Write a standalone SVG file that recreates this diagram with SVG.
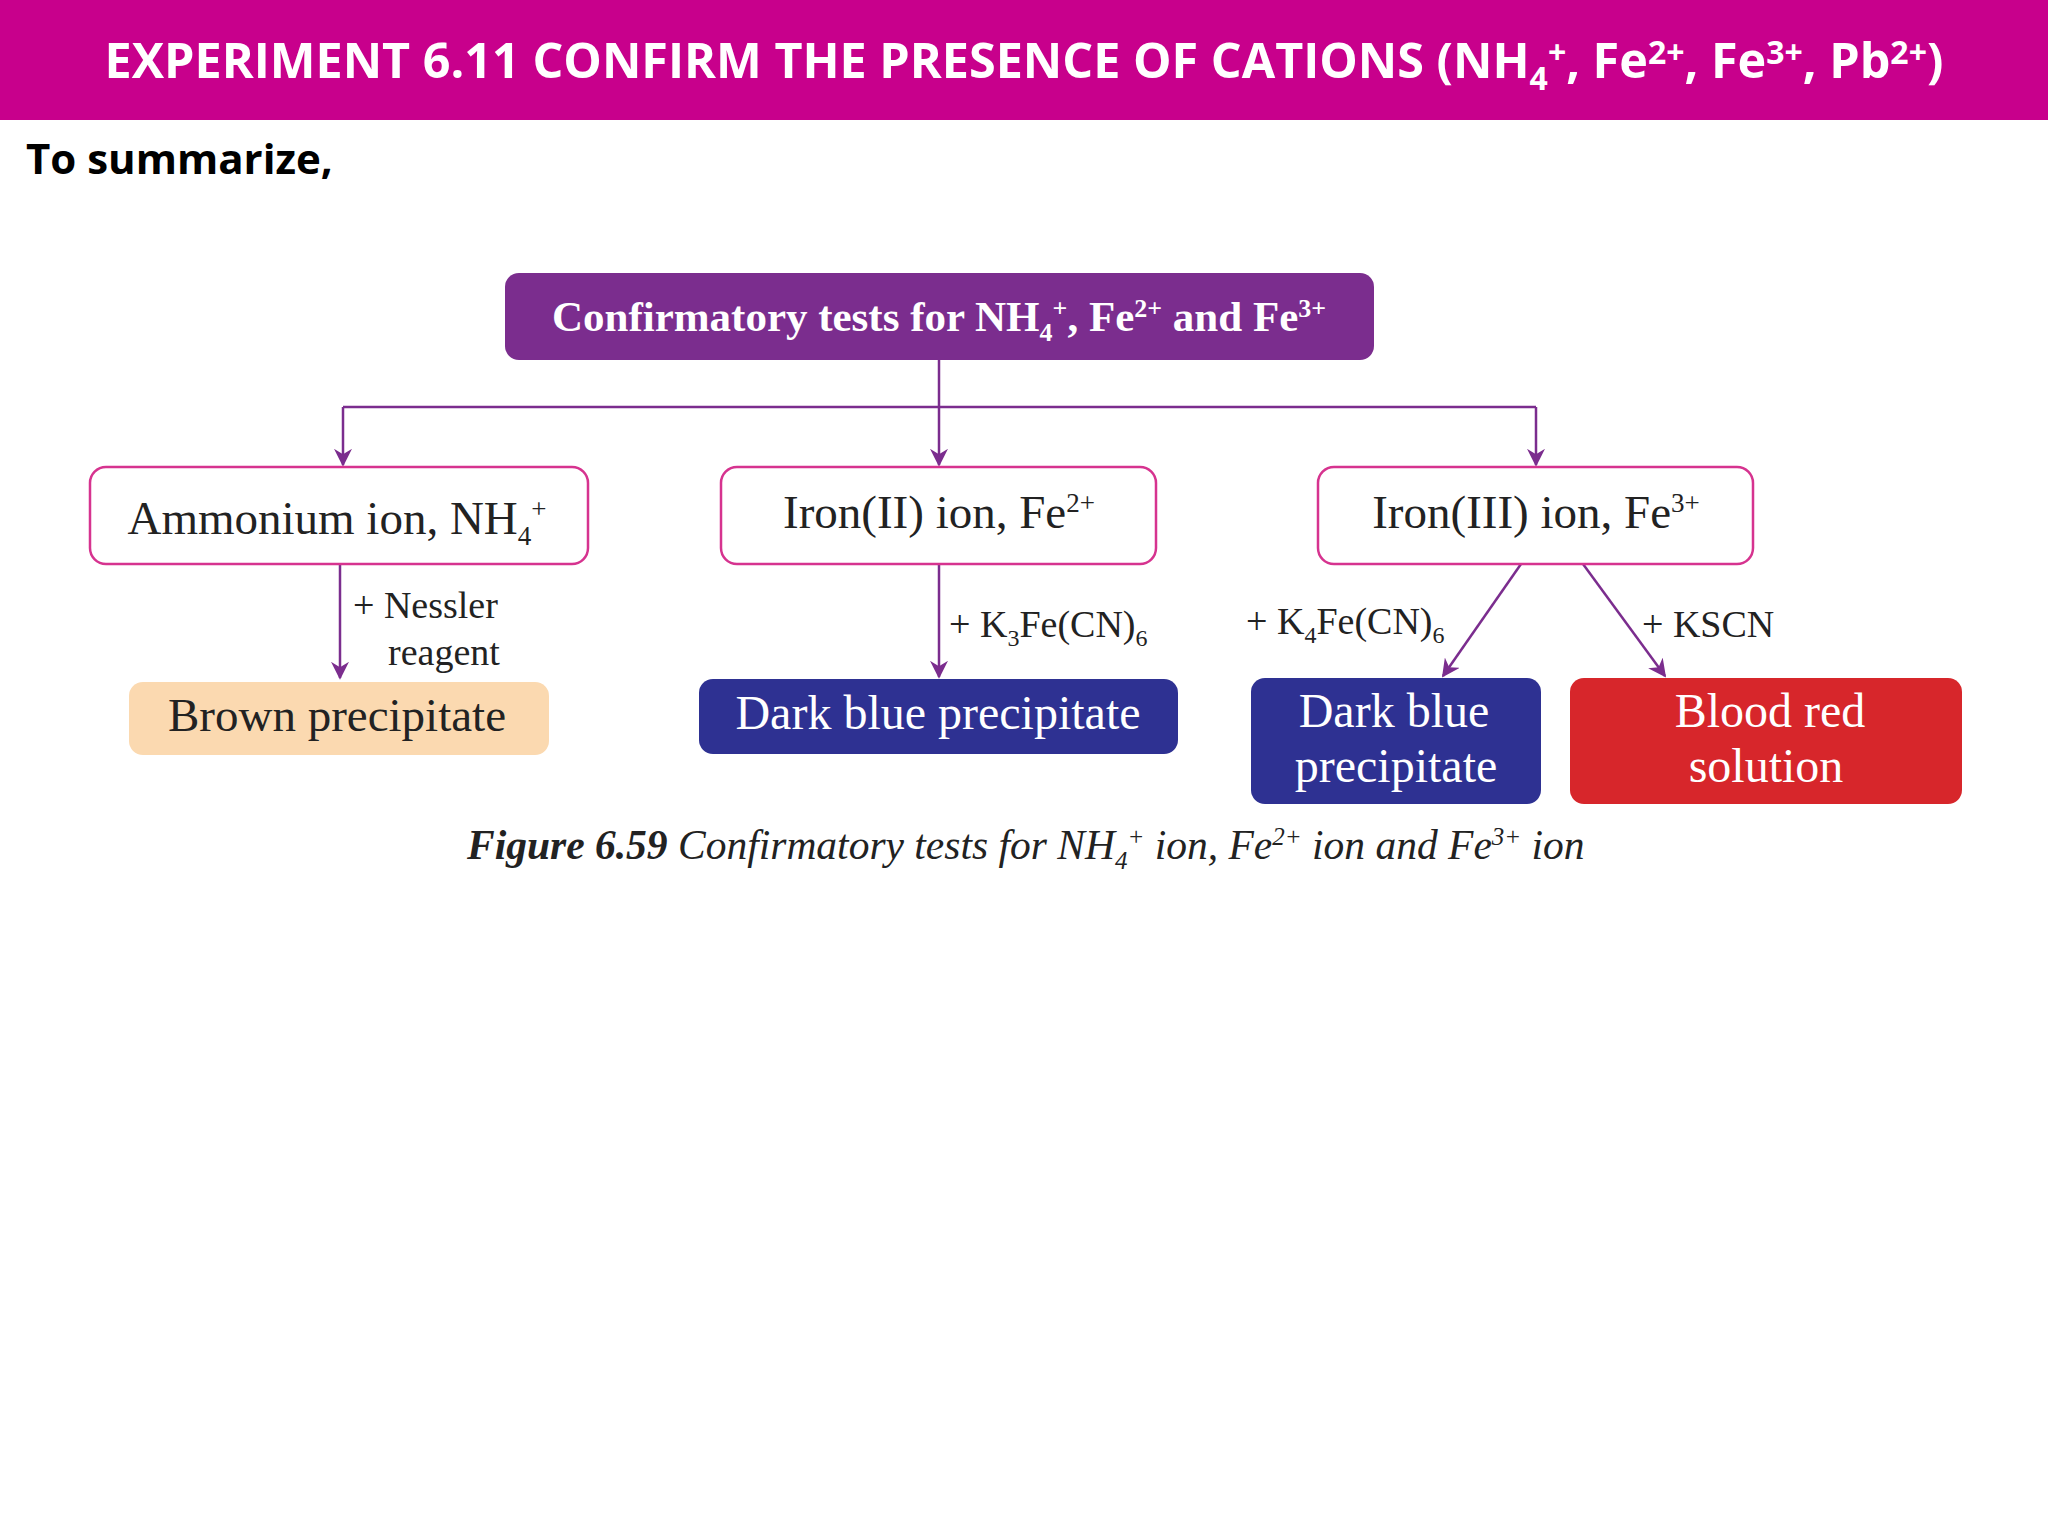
<svg xmlns="http://www.w3.org/2000/svg" width="2048" height="1536" viewBox="0 0 2048 1536">
<defs>
<marker id="ah" viewBox="0 0 10 10" refX="9" refY="5" markerWidth="18" markerHeight="18" orient="auto" markerUnits="userSpaceOnUse">
<path d="M0,0 L10,5 L0,10 L3,5 z" fill="#7B2D8E"/>
</marker>
<style>
.ser{font-family:"Liberation Serif",serif}
.box{fill:#fff;stroke:#D6338F;stroke-width:2.5}
.lbl{font-size:47px;fill:#222}
.wt{font-size:48px;fill:#fff}
.small{font-size:38px;fill:#222}
.conn{stroke:#7B2D8E;stroke-width:2.5;fill:none}
</style>
</defs>
<rect width="2048" height="1536" fill="#fff"/>
<rect width="2048" height="120" fill="#C8008C"/>
<text x="1024" y="78" text-anchor="middle" font-family="'Open Sans',sans-serif" font-weight="bold" font-size="48.5" fill="#fff">EXPERIMENT 6.11 CONFIRM THE PRESENCE OF CATIONS (NH<tspan font-size="32" dy="12">4</tspan><tspan font-size="32" dy="-26">+</tspan><tspan dy="14">, Fe</tspan><tspan font-size="32" dy="-14">2+</tspan><tspan dy="14">, Fe</tspan><tspan font-size="32" dy="-14">3+</tspan><tspan dy="14">, Pb</tspan><tspan font-size="32" dy="-14">2+</tspan><tspan dy="14">)</tspan></text>
<text x="26" y="174" font-family="'Open Sans',sans-serif" font-weight="bold" font-size="42" fill="#000">To summarize,</text>

<g id="connectors">
<path class="conn" d="M939,360 V407"/>
<path class="conn" d="M343,407 H1536"/>
<path class="conn" d="M343,407 V465" marker-end="url(#ah)"/>
<path class="conn" d="M939,407 V465" marker-end="url(#ah)"/>
<path class="conn" d="M1536,407 V465" marker-end="url(#ah)"/>
<path class="conn" d="M340,564 V678" marker-end="url(#ah)"/>
<path class="conn" d="M939,564 V677" marker-end="url(#ah)"/>
<path class="conn" d="M1521,564 L1443,676" marker-end="url(#ah)"/>
<path class="conn" d="M1583,564 L1665,676" marker-end="url(#ah)"/>
<text class="ser small" x="353" y="618">+ Nessler</text>
<text class="ser small" x="388" y="665">reagent</text>
<text class="ser small" x="949" y="637">+ K<tspan font-size="24" dy="9">3</tspan><tspan dy="-9">Fe(CN)</tspan><tspan font-size="24" dy="9">6</tspan></text>
<text class="ser small" x="1246" y="634">+ K<tspan font-size="24" dy="9">4</tspan><tspan dy="-9">Fe(CN)</tspan><tspan font-size="24" dy="9">6</tspan></text>
<text class="ser small" x="1642" y="637">+ KSCN</text>
</g>

<g id="top">
<rect x="505" y="273" width="869" height="87" rx="14" fill="#7B2D8E"/>
<text class="ser" x="939" y="331" text-anchor="middle" font-size="43" font-weight="bold" fill="#fff">Confirmatory tests for NH<tspan font-size="26" dy="10">4</tspan><tspan font-size="26" dy="-24">+</tspan><tspan dy="14">, Fe</tspan><tspan font-size="26" dy="-14">2+</tspan><tspan dy="14"> and Fe</tspan><tspan font-size="26" dy="-14">3+</tspan></text>
</g>
<g id="ammonium">
<rect class="box" x="90" y="467" width="498" height="97" rx="16"/>
<text class="ser lbl" x="337" y="534" text-anchor="middle">Ammonium ion, NH<tspan font-size="27" dy="11">4</tspan><tspan font-size="27" dy="-27">+</tspan></text>
</g>
<g id="iron2">
<rect class="box" x="721" y="467" width="435" height="97" rx="16"/>
<text class="ser lbl" x="939" y="528" text-anchor="middle">Iron(II) ion, Fe<tspan font-size="27" dy="-16">2+</tspan></text>
</g>
<g id="iron3">
<rect class="box" x="1318" y="467" width="435" height="97" rx="16"/>
<text class="ser lbl" x="1536" y="528" text-anchor="middle">Iron(III) ion, Fe<tspan font-size="27" dy="-16">3+</tspan></text>
</g>
<g id="brown">
<rect x="129" y="682" width="420" height="73" rx="14" fill="#FBD9B0"/>
<text class="ser lbl" x="337" y="731" text-anchor="middle" font-size="49">Brown precipitate</text>
</g>
<g id="darkblue1">
<rect x="699" y="679" width="479" height="75" rx="14" fill="#2E3192"/>
<text class="ser wt" x="938" y="729" text-anchor="middle">Dark blue precipitate</text>
</g>
<g id="darkblue2">
<rect x="1251" y="678" width="290" height="126" rx="14" fill="#2E3192"/>
<text class="ser wt" x="1394" y="727" text-anchor="middle">Dark blue</text>
<text class="ser wt" x="1396" y="782" text-anchor="middle">precipitate</text>
</g>
<g id="bloodred">
<rect x="1570" y="678" width="392" height="126" rx="14" fill="#D7262B"/>
<text class="ser wt" x="1770" y="727" text-anchor="middle">Blood red</text>
<text class="ser wt" x="1766" y="782" text-anchor="middle">solution</text>
</g>
<text class="ser" x="467" y="859" font-size="41.5" font-style="italic" fill="#222"><tspan font-weight="bold">Figure 6.59</tspan> Confirmatory tests for NH<tspan font-size="25" dy="10">4</tspan><tspan font-size="25" dy="-24">+</tspan><tspan dy="14"> ion, Fe</tspan><tspan font-size="25" dy="-14">2+</tspan><tspan dy="14"> ion and Fe</tspan><tspan font-size="25" dy="-14">3+</tspan><tspan dy="14"> ion</tspan></text>
</svg>
